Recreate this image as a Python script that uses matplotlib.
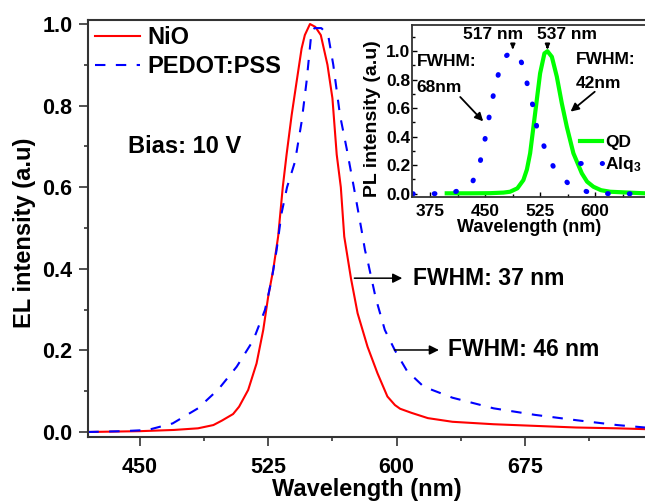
import matplotlib
matplotlib.use("Agg")
import matplotlib.pyplot as plt
from matplotlib.ticker import MultipleLocator

plt.rcParams["font.family"] = ["Liberation Sans", "DejaVu Sans"]
plt.rcParams["font.weight"] = "bold"
plt.rcParams["mathtext.default"] = "regular"

# main panel: EL spectra
nio_wl = [420, 450, 470, 484, 493, 498, 504.5, 508, 513.3, 518.2, 522.1, 525, 527.9, 530.8,
          533.5, 535.7, 538.7, 541.6, 544.5, 546.4, 549.4, 552.5, 555.7, 559.6, 562.5, 565,
          567.4, 569.4, 573.3, 577.2, 583, 588.8, 594.6, 599, 602, 608.6, 618.2, 632.6,
          656.6, 680.7, 704.7, 728.7, 745]
nio_el = [0.0, 0.002, 0.005, 0.009, 0.017, 0.028, 0.044, 0.062, 0.103, 0.168, 0.25, 0.332,
          0.397, 0.479, 0.60, 0.679, 0.777, 0.859, 0.94, 0.973, 1.0, 0.993, 0.973, 0.90,
          0.818, 0.68, 0.60, 0.479, 0.377, 0.291, 0.209, 0.144, 0.087, 0.066, 0.057, 0.047,
          0.034, 0.025, 0.019, 0.015, 0.011, 0.009, 0.007]

pedot_wl = [420, 440, 454.7, 469.2, 484, 496, 506.6, 516.3, 523.1, 527, 529.9, 532.8, 536,
            540.6, 544.5, 547.4, 549.9, 552, 556, 560, 563, 566.9, 570.8, 575, 579.5, 581.5,
            583.4, 587.8, 593.1, 599, 606, 615.8, 632.6, 656.6, 680.7, 704.7, 728.7, 745]
pedot_el = [0.0, 0.002, 0.005, 0.021, 0.058, 0.105, 0.16, 0.225, 0.299, 0.373, 0.446, 0.536,
            0.60, 0.662, 0.76, 0.859, 0.965, 0.99, 0.99, 0.973, 0.90, 0.777, 0.695, 0.60,
            0.495, 0.446, 0.413, 0.328, 0.25, 0.20, 0.15, 0.111, 0.084, 0.058, 0.042, 0.029,
            0.017, 0.011]

# inset: PL spectra
qd_wl = [397.7, 430, 456.8, 475, 484, 494, 502.2, 507, 511.4, 518.2, 525, 530.9, 535, 541,
         547.8, 554.6, 561.4, 570.4, 581.9, 589, 597.7, 608, 620.5, 668]
qd_pl = [0.003, 0.003, 0.004, 0.008, 0.014, 0.038, 0.096, 0.17, 0.284, 0.564, 0.845, 0.985,
         1.0, 0.961, 0.821, 0.634, 0.47, 0.284, 0.143, 0.085, 0.049, 0.025, 0.014, 0.003]

alq_wl = [351, 378, 404.5, 430.5, 441.8, 447.7, 453.1, 457.7, 463.2, 470, 478, 487.8, 496,
          503.2, 508.6, 515.9, 520.5, 530.9, 543.1, 565.9, 593.2, 620.5, 668]
alq_pl = [0.0, 0.0, 0.005, 0.054, 0.19, 0.326, 0.466, 0.604, 0.74, 0.877, 0.965, 1.0, 0.965,
          0.877, 0.74, 0.604, 0.466, 0.326, 0.19, 0.056, 0.007, 0.0, 0.0]

fig = plt.figure(figsize=(6.45, 5.03), dpi=100)
ax = fig.add_axes([0.137, 0.1312, 0.863, 0.829])

ax.plot(nio_wl, nio_el, color="#ff0000", lw=1.5, label="NiO")
ax.plot(pedot_wl, pedot_el, color="#0000ff", lw=1.5, linestyle=(0, (5, 5)), label="PEDOT:PSS")

ax.set_xlim(420, 745)
ax.set_ylim(-0.0123, 1.0098)
ax.xaxis.set_major_locator(MultipleLocator(75))
ax.xaxis.set_minor_locator(MultipleLocator(37.5))
ax.set_yticks([0.0, 0.2, 0.4, 0.6, 0.8, 1.0])
ax.set_yticklabels(["0.0", "0.2", "0.4", "0.6", "0.8", "1.0"])
ax.yaxis.set_minor_locator(MultipleLocator(0.1))
ax.tick_params(which="major", direction="out", length=6.5, width=1.2, labelsize=15.5, color="#333333")
ax.tick_params(which="minor", direction="out", length=3, width=1.2, color="#333333")
ax.tick_params(axis="x", pad=8)
ax.tick_params(axis="y", pad=5)
for side in ["left", "bottom", "top"]:
    ax.spines[side].set_linewidth(1.5)
    ax.spines[side].set_color("#333333")
ax.spines["right"].set_visible(False)

ax.set_xlabel("Wavelength (nm)", fontsize=17, fontweight="bold")
ax.set_ylabel("EL intensity (a.u)", fontsize=17, fontweight="bold")
ax.xaxis.set_label_coords(0.5, -0.098)
ax.yaxis.set_label_coords(-0.094, 0.489)

ax.legend(loc="upper left", bbox_to_anchor=(0.012, 0.985), frameon=False, fontsize=17,
          handlelength=1.9, handletextpad=0.3, labelspacing=0.25, borderpad=0, borderaxespad=0)

ax.text(443, 0.699, "Bias: 10 V", fontsize=17, fontweight="bold", va="center", ha="left")
ax.annotate("", xy=(604.9, 0.377), xytext=(573.7, 0.377),
            arrowprops=dict(arrowstyle="-|>", color="black", lw=1.1, mutation_scale=14))
ax.text(609.3, 0.377, "FWHM: 37 nm", fontsize=16.5, fontweight="bold", va="center", ha="left")
ax.annotate("", xy=(626.3, 0.201), xytext=(597.1, 0.201),
            arrowprops=dict(arrowstyle="-|>", color="black", lw=1.1, mutation_scale=14))
ax.text(630.1, 0.201, "FWHM: 46 nm", fontsize=16.5, fontweight="bold", va="center", ha="left")

# inset
ins = fig.add_axes([0.6395, 0.6083, 0.3605, 0.342])
ins.plot(qd_wl, qd_pl, color="#00ff00", lw=3, label="QD")
ins.plot(alq_wl, alq_pl, color="#0000ff", lw=3.6, linestyle=(0, (0.15, 4.2)),
         dash_capstyle="round", label="Alq$_3$")
ins.set_xlim(351, 668)
ins.set_ylim(-0.023, 1.184)
ins.xaxis.set_major_locator(MultipleLocator(75))
ins.xaxis.set_minor_locator(MultipleLocator(37.5))
ins.set_yticks([0.0, 0.2, 0.4, 0.6, 0.8, 1.0])
ins.set_yticklabels(["0.0", "0.2", "0.4", "0.6", "0.8", "1.0"])
ins.yaxis.set_minor_locator(MultipleLocator(0.1))
ins.tick_params(which="major", direction="in", length=3.5, width=1, labelsize=12.5)
ins.tick_params(which="minor", direction="in", length=2, width=1)
ins.tick_params(axis="x", pad=5)
ins.tick_params(axis="y", pad=1.5)
for side in ["left", "bottom", "top"]:
    ins.spines[side].set_linewidth(1.3)
    ins.spines[side].set_color("#333333")
ins.spines["right"].set_visible(False)
ins.set_xlabel("Wavelength (nm)", fontsize=13, fontweight="bold")
ins.set_ylabel("PL intensity (a.u)", fontsize=14, fontweight="bold")
ins.xaxis.set_label_coords(0.5, -0.13)
ins.yaxis.set_label_coords(-0.135, 0.453)

ins.legend(loc="upper left", bbox_to_anchor=(0.72, 0.36), frameon=False, fontsize=12.5,
           handlelength=1.25, handletextpad=0.2, labelspacing=0.3, borderpad=0, borderaxespad=0)

ins.text(420.4, 1.114, "517 nm", fontsize=12.5, fontweight="bold", va="center", ha="left")
ins.text(520.4, 1.114, "537 nm", fontsize=12.5, fontweight="bold", va="center", ha="left")
ins.annotate("", xy=(487.8, 0.995), xytext=(487.8, 1.05),
             arrowprops=dict(arrowstyle="-|>", color="black", lw=1.5, mutation_scale=6))
ins.annotate("", xy=(535, 0.995), xytext=(535, 1.05),
             arrowprops=dict(arrowstyle="-|>", color="black", lw=1.5, mutation_scale=6))
ins.text(356.7, 0.926, "FWHM:", fontsize=12.5, fontweight="bold", va="center", ha="left")
ins.text(356.7, 0.747, "68nm", fontsize=12.5, fontweight="bold", va="center", ha="left")
ins.text(574.1, 0.943, "FWHM:", fontsize=12.5, fontweight="bold", va="center", ha="left")
ins.text(574.1, 0.775, "42nm", fontsize=12.5, fontweight="bold", va="center", ha="left")
ins.annotate("", xy=(450, 0.494), xytext=(413.5, 0.693),
             arrowprops=dict(arrowstyle="-|>", color="black", lw=1.3, mutation_scale=12))
ins.annotate("", xy=(563.6, 0.564), xytext=(602.4, 0.728),
             arrowprops=dict(arrowstyle="-|>", color="black", lw=1.3, mutation_scale=12))

fig.savefig("out.png", dpi=100)
